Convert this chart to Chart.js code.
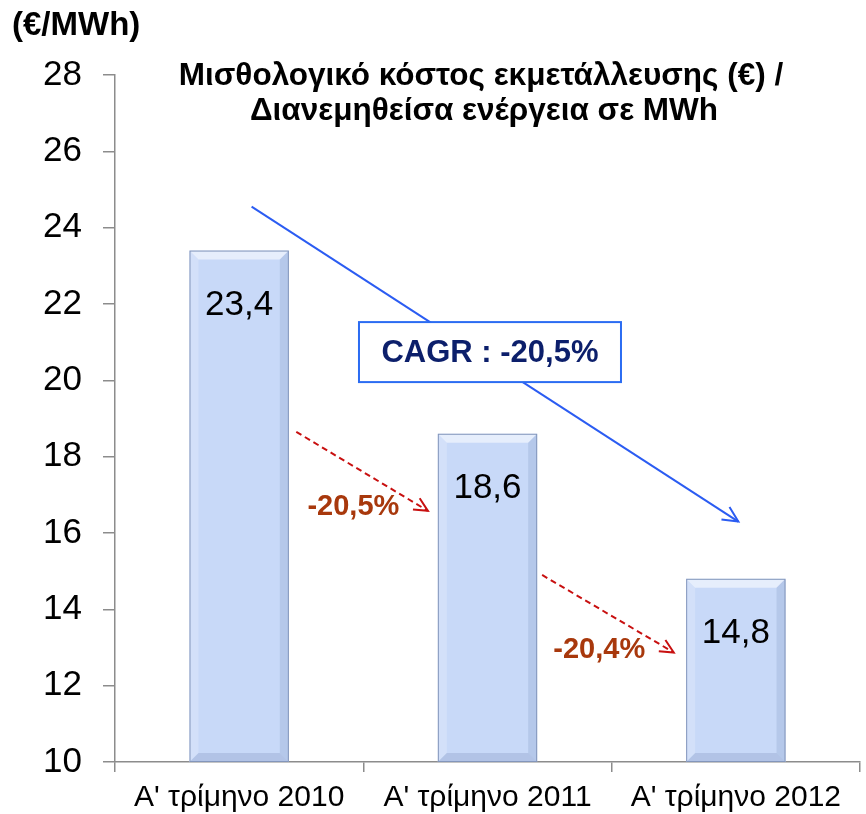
<!DOCTYPE html>
<html>
<head>
<meta charset="utf-8">
<script src="https://cdn.jsdelivr.net/npm/chart.js@4"></script>
<style>
  html, body { margin: 0; padding: 0; background: #fff; }
  #wrap { position: relative; width: 866px; height: 814px; }
</style>
</head>
<body>
<div id="wrap"><canvas id="chart" width="866" height="814"></canvas></div>
<script>
const categories = ["Α' τρίμηνο 2010", "Α' τρίμηνο 2011", "Α' τρίμηνο 2012"];
const costValues = [23.4, 18.6, 14.8];
const titleLines = ["Μισθολογικό κόστος εκμετάλλευσης (€) /", "Διανεμηθείσα ενέργεια σε MWh"];
const unitLabel = "(€/MWh)";
const cagrLabel = "CAGR : -20,5%";
const changeLabels = ["-20,5%", "-20,4%"];
// arrows in data space: [fromIndex, fromValue, toIndex, toValue]
const cagrArrow = [0.05, 24.55, 2.01, 16.3];
const changeArrows = [[0.23, 18.65, 0.76, 16.58], [1.22, 14.9, 1.75, 12.87]];
const changeLabelPos = [[0.46, 16.68], [1.45, 12.93]];
const cagrBoxPos = [1.01, 20.74];

const FONT = "'Liberation Sans', Arial, sans-serif";

function arrowHead(ctx, x1, y1, x2, y2, size) {
  const a = Math.atan2(y2 - y1, x2 - x1);
  ctx.beginPath();
  ctx.moveTo(x2 - size * Math.cos(a - 0.45), y2 - size * Math.sin(a - 0.45));
  ctx.lineTo(x2, y2);
  ctx.lineTo(x2 - size * Math.cos(a + 0.45), y2 - size * Math.sin(a + 0.45));
  ctx.stroke();
}

const decorations = {
  id: "decorations",
  afterDatasetsDraw(chart) {
    const ctx = chart.ctx;
    const xs = chart.scales.x, ys = chart.scales.y;
    const meta = chart.getDatasetMeta(0);

    // bevel + value labels
    meta.data.forEach((bar, i) => {
      const left = bar.x - bar.width / 2, right = bar.x + bar.width / 2;
      const top = bar.y, bottom = Math.min(bar.base, chart.chartArea.bottom), b = 9;
      ctx.save();
      ctx.fillStyle = "rgba(255,255,255,0.55)";
      ctx.beginPath();
      ctx.moveTo(left, top); ctx.lineTo(right, top);
      ctx.lineTo(right - b, top + b); ctx.lineTo(left + b, top + b);
      ctx.closePath(); ctx.fill();
      ctx.fillStyle = "rgba(90,110,160,0.16)";
      ctx.beginPath();
      ctx.moveTo(right, top); ctx.lineTo(right, bottom);
      ctx.lineTo(right - b, bottom - b); ctx.lineTo(right - b, top + b);
      ctx.closePath(); ctx.fill();
      ctx.fillStyle = "rgba(255,255,255,0.2)";
      ctx.beginPath();
      ctx.moveTo(left, top); ctx.lineTo(left, bottom);
      ctx.lineTo(left + b, bottom - b); ctx.lineTo(left + b, top + b);
      ctx.closePath(); ctx.fill();
      ctx.fillStyle = "rgba(90,110,160,0.2)";
      ctx.beginPath();
      ctx.moveTo(left, bottom); ctx.lineTo(right, bottom);
      ctx.lineTo(right - b, bottom - b); ctx.lineTo(left + b, bottom - b);
      ctx.closePath(); ctx.fill();
      ctx.strokeStyle = "#8396bb";
      ctx.lineWidth = 1;
      ctx.strokeRect(left + 0.5, top + 0.5, bar.width - 1, bottom - top - 1);

      ctx.fillStyle = "#000";
      ctx.font = "35px " + FONT;
      ctx.textAlign = "center";
      ctx.textBaseline = "middle";
      ctx.fillText(costValues[i].toFixed(1).replace(".", ","), bar.x, top + 55);
      ctx.restore();
    });

    ctx.save();
    // CAGR arrow
    const p = (i, v) => [xs.getPixelForValue(i), ys.getPixelForValue(v)];
    let [ax1, ay1] = p(cagrArrow[0], cagrArrow[1]);
    let [ax2, ay2] = p(cagrArrow[2], cagrArrow[3]);
    ctx.strokeStyle = "#2b5cf2";
    ctx.lineWidth = 2;
    ctx.beginPath(); ctx.moveTo(ax1, ay1); ctx.lineTo(ax2, ay2); ctx.stroke();
    arrowHead(ctx, ax1, ay1, ax2, ay2, 17);

    // CAGR box
    const [bx, by] = p(cagrBoxPos[0], cagrBoxPos[1]);
    const bw = 262, bh = 60;
    ctx.fillStyle = "#fff";
    ctx.fillRect(bx - bw / 2, by - bh / 2, bw, bh);
    ctx.strokeStyle = "#2b6cf2";
    ctx.lineWidth = 2;
    ctx.strokeRect(bx - bw / 2, by - bh / 2, bw, bh);
    ctx.fillStyle = "#0c1f6b";
    ctx.font = "bold 31px " + FONT;
    ctx.textAlign = "center";
    ctx.textBaseline = "middle";
    ctx.fillText(cagrLabel, bx, by + 1);

    // change arrows
    ctx.strokeStyle = "#c81010";
    ctx.lineWidth = 2;
    changeArrows.forEach(a => {
      const [x1, y1] = p(a[0], a[1]);
      const [x2, y2] = p(a[2], a[3]);
      ctx.setLineDash([6, 4]);
      ctx.beginPath(); ctx.moveTo(x1, y1); ctx.lineTo(x2, y2); ctx.stroke();
      ctx.setLineDash([]);
      arrowHead(ctx, x1, y1, x2, y2, 15);
    });
    ctx.fillStyle = "#a8380c";
    ctx.font = "bold 29px " + FONT;
    changeLabels.forEach((t, i) => {
      const [x, y] = p(changeLabelPos[i][0], changeLabelPos[i][1]);
      ctx.fillText(t, x, y);
    });

    // titles
    ctx.fillStyle = "#000";
    ctx.font = "bold 31.5px " + FONT;
    ctx.fillText(titleLines[0], 481, 76);
    ctx.fillText(titleLines[1], 484, 111);
    ctx.textAlign = "left";
    ctx.font = "bold 33px " + FONT;
    ctx.fillText(unitLabel, 12, 26);
    ctx.restore();
  }
};

const ctx = document.getElementById("chart").getContext("2d");

new Chart(ctx, {
  type: "bar",
  data: {
    labels: categories,
    datasets: [{
      data: costValues,
      backgroundColor: "#c8d9f8",
      borderWidth: 0,
      barPercentage: 0.4,
      categoryPercentage: 1.0
    }]
  },
  options: {
    responsive: false,
    animation: false,
    layout: { padding: { top: 75, right: 6, left: 0, bottom: 0 } },
    plugins: { legend: { display: false }, tooltip: { enabled: false }, title: { display: false } },
    scales: {
      x: {
        offset: true,
        grid: { offset: true, drawOnChartArea: false, drawTicks: true, tickLength: 10, color: "#8c8c8c", lineWidth: 1.5 },
        border: { color: "#8c8c8c", width: 1.5 },
        ticks: { color: "#000", font: { family: FONT, size: 30 }, padding: 8 },
        afterFit(scale) { scale.height = 52; }
      },
      y: {
        min: 10,
        max: 28,
        ticks: { stepSize: 2, color: "#000", font: { family: FONT, size: 35 }, padding: 21 },
        grid: { drawOnChartArea: false, drawTicks: true, tickLength: 12, color: "#8c8c8c", lineWidth: 1.5 },
        border: { color: "#8c8c8c", width: 1.5 },
        afterFit(scale) { scale.width = 115; }
      }
    }
  },
  plugins: [decorations]
});
</script>
</body>
</html>
